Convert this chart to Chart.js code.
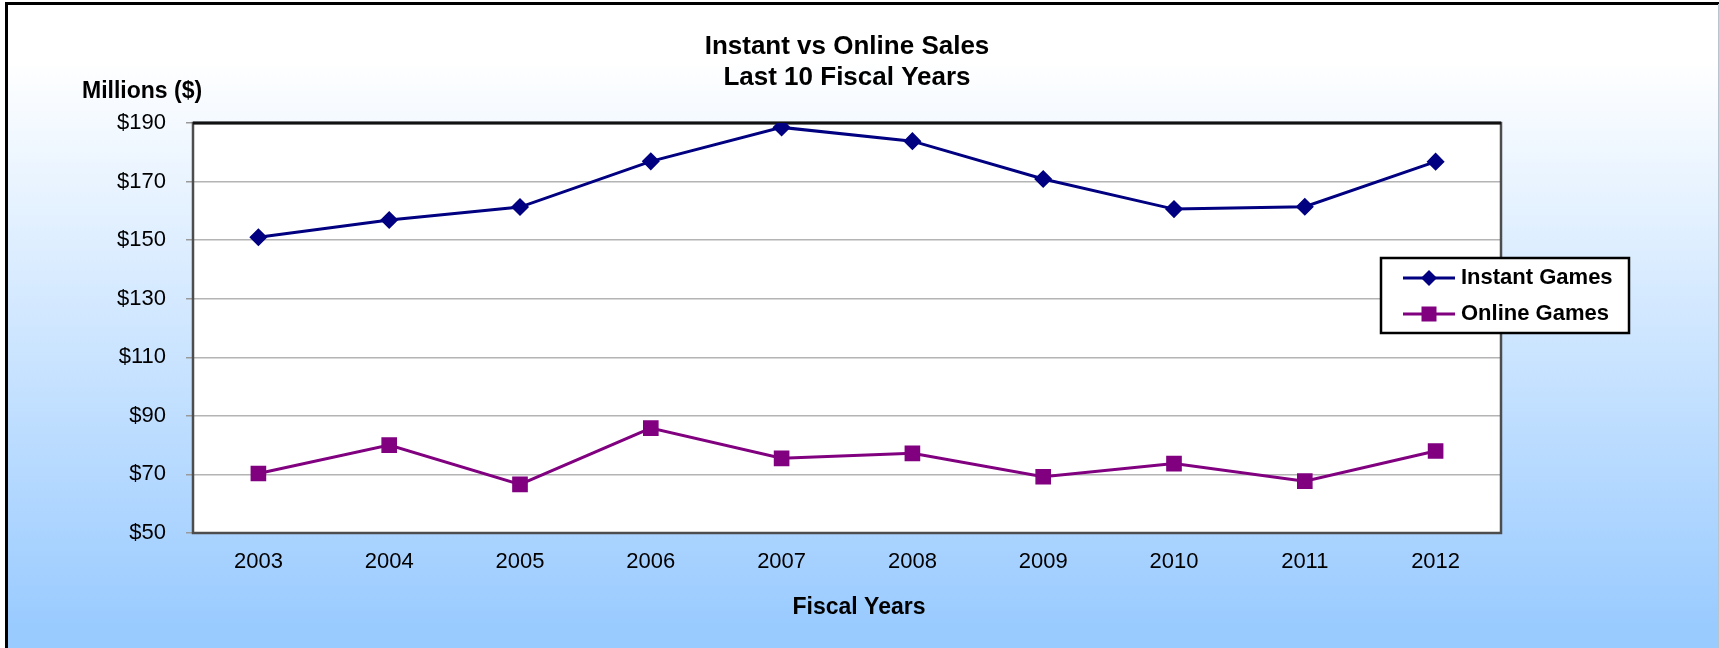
<!DOCTYPE html>
<html>
<head>
<meta charset="utf-8">
<title>Instant vs Online Sales</title>
<script src="https://cdn.jsdelivr.net/npm/chart.js@4.4.1/dist/chart.umd.min.js"></script>
<style>
  html, body { margin: 0; padding: 0; background: #fff; }
  canvas { display: block; }
</style>
</head>
<body>
<canvas id="salesChart" width="1719" height="648"></canvas>
<script>
// data (millions of dollars)
var fiscalYears = ['2003', '2004', '2005', '2006', '2007', '2008', '2009', '2010', '2011', '2012'];
var instantSales = [151.0, 156.9, 161.3, 176.9, 188.5, 183.8, 170.9, 160.6, 161.4, 176.8];
var onlineSales = [70.3, 80.0, 66.6, 85.8, 75.5, 77.2, 69.2, 73.7, 67.7, 78.0];
var seriesNames = ['Instant Games', 'Online Games'];
var titleLines = ['Instant vs Online Sales', 'Last 10 Fiscal Years'];
var yMin = 50, yMax = 190, yStep = 20;

var FONT = '"Liberation Sans", Arial, sans-serif';

// background, frame and white plot area
var backdrop = {
    id: 'backdrop',
    beforeDraw: function(chart) {
        var ctx = chart.ctx, w = chart.width, h = chart.height, a = chart.chartArea;
        ctx.save();
        ctx.fillStyle = '#ffffff';
        ctx.fillRect(0, 0, w, h);
        var g = ctx.createLinearGradient(0, 60, 0, 625);
        g.addColorStop(0, '#ffffff');
        g.addColorStop(1, '#9acbff');
        ctx.fillStyle = g;
        ctx.fillRect(7, 4, w - 8, h - 4);
        ctx.fillStyle = '#000000';
        ctx.fillRect(5, 2, 3, h);
        ctx.fillRect(5, 2, w, 3);
        ctx.fillStyle = '#b8c4d0';
        ctx.fillRect(w - 1, 4, 1, h);
        ctx.fillStyle = '#ffffff';
        ctx.fillRect(a.left, a.top, a.right - a.left, a.bottom - a.top);
        ctx.restore();
    },
    beforeDatasetsDraw: function(chart) {
        var ctx = chart.ctx, a = chart.chartArea;
        ctx.save();
        ctx.lineWidth = 2.5;
        ctx.strokeStyle = '#4d4d4d';
        ctx.strokeRect(a.left, a.top, a.right - a.left, a.bottom - a.top);
        ctx.strokeStyle = '#111111';
        ctx.lineWidth = 3;
        ctx.beginPath();
        ctx.moveTo(a.left, a.top);
        ctx.lineTo(a.right, a.top);
        ctx.stroke();
        ctx.restore();
    }
};

// titles, axis captions and the boxed legend
var captions = {
    id: 'captions',
    afterDraw: function(chart) {
        var ctx = chart.ctx, a = chart.chartArea;
        var cx = (a.left + a.right) / 2;
        ctx.save();
        ctx.fillStyle = '#000000';
        ctx.textAlign = 'center';
        ctx.textBaseline = 'middle';
        ctx.font = 'bold 26px ' + FONT;
        ctx.fillText(titleLines[0], cx, 47);
        ctx.fillText(titleLines[1], cx, 78);

        ctx.font = 'bold 23px ' + FONT;
        ctx.textAlign = 'left';
        ctx.fillText('Millions ($)', 82, 92);
        ctx.textAlign = 'center';
        ctx.fillText('Fiscal Years', 859, 608);

        // legend
        var lx = 1381, ly = 258, lw = 248, lh = 75;
        ctx.fillStyle = '#ffffff';
        ctx.fillRect(lx, ly, lw, lh);
        ctx.lineWidth = 2.5;
        ctx.strokeStyle = '#000000';
        ctx.strokeRect(lx, ly, lw, lh);
        var rows = [278, 314];
        chart.data.datasets.forEach(function(ds, i) {
            var y = rows[i];
            ctx.strokeStyle = ds.borderColor;
            ctx.lineWidth = ds.borderWidth;
            ctx.beginPath();
            ctx.moveTo(1403, y);
            ctx.lineTo(1455, y);
            ctx.stroke();
            ctx.fillStyle = ds.backgroundColor;
            ctx.beginPath();
            if (ds.pointStyle === 'rectRot') {
                ctx.moveTo(1429, y - 8);
                ctx.lineTo(1437, y);
                ctx.lineTo(1429, y + 8);
                ctx.lineTo(1421, y);
                ctx.closePath();
            } else {
                ctx.rect(1421.5, y - 7.5, 15, 15);
            }
            ctx.fill();
            ctx.fillStyle = '#000000';
            ctx.font = 'bold 22px ' + FONT;
            ctx.textAlign = 'left';
            ctx.fillText(ds.label, 1461, y);
        });
        ctx.restore();
    }
};

var ctx = document.getElementById('salesChart').getContext('2d');
var salesChart = new Chart(ctx, {
    type: 'line',
    data: {
        labels: fiscalYears,
        datasets: [{
            label: seriesNames[0],
            data: instantSales,
            borderColor: '#000080',
            backgroundColor: '#000080',
            borderWidth: 3,
            pointStyle: 'rectRot',
            pointRadius: 8,
            pointBorderWidth: 1.5,
            tension: 0
        }, {
            label: seriesNames[1],
            data: onlineSales,
            borderColor: '#800080',
            backgroundColor: '#800080',
            borderWidth: 3,
            pointStyle: 'rect',
            pointRadius: 10,
            pointBorderWidth: 1.5,
            tension: 0
        }]
    },
    options: {
        responsive: false,
        animation: false,
        layout: { padding: { left: 0, top: 123, right: 218, bottom: 0 } },
        plugins: {
            legend: { display: false },
            title: { display: false },
            tooltip: { enabled: false }
        },
        scales: {
            x: {
                offset: true,
                grid: { display: false, drawTicks: false },
                border: { display: false },
                ticks: {
                    color: '#000000',
                    padding: 16,
                    maxRotation: 0,
                    font: { family: FONT, size: 22 }
                },
                afterFit: function(scale) { scale.height = 115; }
            },
            y: {
                min: yMin,
                max: yMax,
                grid: { color: '#b4b4b4', lineWidth: 1.5, tickColor: '#9a9a9a', tickLength: 7 },
                border: { display: false },
                ticks: {
                    stepSize: yStep,
                    color: '#000000',
                    padding: 20,
                    font: { family: FONT, size: 22 },
                    callback: function(v) { return '$' + v; }
                },
                afterFit: function(scale) { scale.width = 193; }
            }
        }
    },
    plugins: [backdrop, captions]
});
</script>
</body>
</html>
